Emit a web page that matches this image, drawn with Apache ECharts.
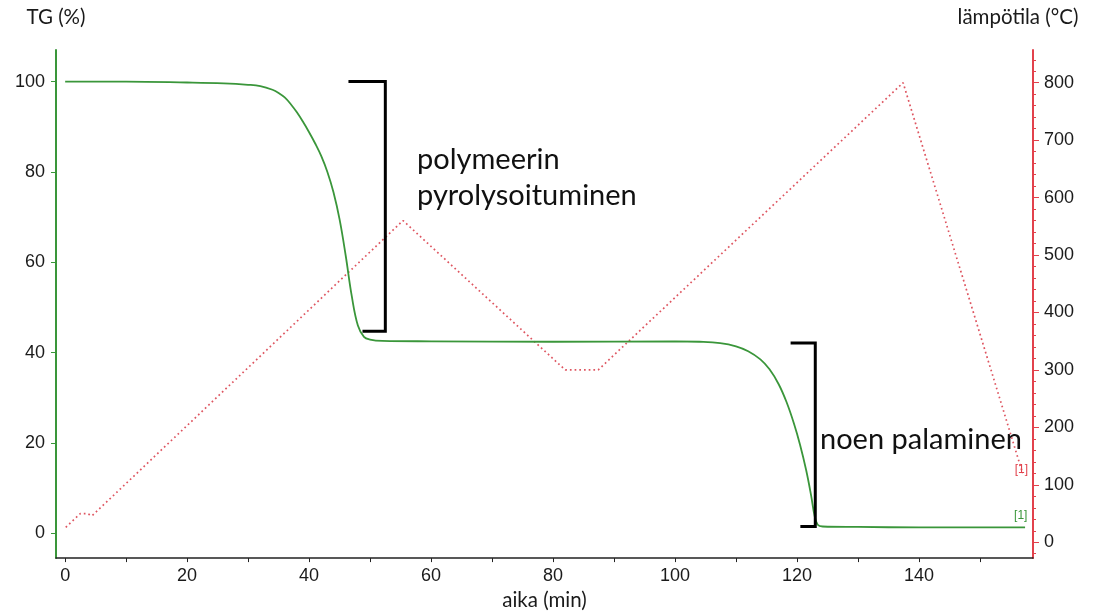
<!DOCTYPE html>
<html>
<head>
<meta charset="utf-8">
<script src="https://cdn.jsdelivr.net/npm/echarts@6/dist/echarts.min.js"></script>
<style>
  html, body { margin: 0; padding: 0; background: #fff; }
  #chart { width: 1093px; height: 616px; }
</style>
</head>
<body>
<div id="chart"></div>
<script>
// Mass loss (TG, %) against time (min)
const tgTime = [0, 10, 20, 26, 30, 32, 34, 35, 36, 37, 38, 39, 40, 41, 42, 43, 44, 45, 46, 47, 48, 49, 50, 52, 60, 80, 100, 104, 107.4, 110, 112, 114, 115.5, 117, 118.3, 119.5, 120.5, 121.5, 122.3, 122.9, 123.4, 124.2, 130, 140, 157.4];
const tgMass = [100, 100, 99.8, 99.6, 99.3, 99.0, 98.2, 97.5, 96.5, 95.0, 93.2, 91.1, 88.8, 86.3, 83.5, 80.0, 75.5, 69.5, 61.5, 52.5, 46.0, 43.5, 42.9, 42.6, 42.5, 42.4, 42.5, 42.4, 42.1, 41.4, 40.3, 38.5, 36.3, 33.0, 29.0, 24.3, 19.6, 14.0, 8.5, 3.8, 1.9, 1.5, 1.4, 1.3, 1.3];

// Furnace temperature programme (°C) against time (min)
const tempTime = [0.1, 2.5, 3.6, 4.4, 55.4, 82, 87.4, 137.4, 157];
const tempValue = [26, 50, 50, 46, 560, 300, 300, 800, 120];

// Brackets marking the two mass-loss steps
const bracket1Time = [46.7, 52.5, 52.5, 49.0];
const bracket1Mass = [100, 100, 44.7, 44.7];
const bracket2Time = [119.2, 123.0, 123.0, 120.8];
const bracket2Mass = [42.1, 42.1, 1.5, 1.5];

// Tick positions and labels
const timeLabels = [0, 20, 40, 60, 80, 100, 120, 140];
const timeTicks = [0, 10, 20, 30, 40, 50, 60, 70, 80, 90, 100, 110, 120, 130, 140, 150];
const tgLabels = [0, 20, 40, 60, 80, 100];
const tempLabels = [0, 100, 200, 300, 400, 500, 600, 700, 800];
const tempMinorTicks = [-20, 0, 20, 40, 60, 80, 100, 120, 140, 160, 180, 200, 220, 240, 260, 280, 300, 320, 340, 360, 380, 400, 420, 440, 460, 480, 500, 520, 540, 560, 580, 600, 620, 640, 660, 680, 700, 720, 740, 760, 780, 800, 820, 840];

const annotations = ['polymeerin', 'pyrolysoituminen', 'noen palaminen'];

const GREEN = '#3a963a';
const RED = '#e2424c';
const tickFont = { fontFamily: 'Liberation Sans', fontSize: 18, color: '#1a1a1a' };
const titleFont = { fontFamily: 'Lato', fontSize: 20.5, color: '#1a1a1a' };
const noteFont = '29px Lato';

const zip = (xs, ys) => xs.map((x, i) => [x, ys[i]]);

const chart = echarts.init(document.getElementById('chart'));
chart.setOption({
  animation: false,
  backgroundColor: '#fff',
  grid: { left: 56, right: 60, top: 50, bottom: 53 },
  xAxis: {
    type: 'value',
    min: -1.5,
    max: 158.7,
    name: 'aika (min)',
    nameLocation: 'middle',
    nameGap: 29,
    nameTextStyle: titleFont,
    splitLine: { show: false },
    axisLine: { show: true, onZero: false, lineStyle: { color: '#222', width: 1.5 } },
    axisTick: { show: true, length: 4, customValues: timeTicks, lineStyle: { color: '#222' } },
    axisLabel: Object.assign({ customValues: timeLabels, margin: 9 }, tickFont)
  },
  yAxis: [
    {
      type: 'value',
      position: 'left',
      min: -5.5,
      max: 107,
      name: 'TG (%)',
      nameLocation: 'end',
      nameGap: 22,
      nameTextStyle: Object.assign({ align: 'center' }, titleFont),
      splitLine: { show: false },
      axisLine: { show: true, onZero: false, lineStyle: { color: GREEN, width: 2 } },
      axisTick: { show: true, length: 5, customValues: tgLabels, lineStyle: { color: GREEN } },
      axisLabel: Object.assign({ customValues: tgLabels, margin: 11 }, tickFont)
    },
    {
      type: 'value',
      position: 'right',
      min: -27.6,
      max: 857,
      name: 'lämpötila (°C)',
      nameLocation: 'end',
      nameGap: 22,
      nameTextStyle: Object.assign({ align: 'center', padding: [0, 30, 0, 0] }, titleFont),
      splitLine: { show: false },
      axisLine: { show: true, onZero: false, lineStyle: { color: RED, width: 2 } },
      axisTick: { show: true, length: 6, customValues: tempLabels, lineStyle: { color: RED } },
      axisLabel: Object.assign({ customValues: tempLabels, margin: 11 }, tickFont)
    },
    {
      type: 'value',
      position: 'right',
      min: -27.6,
      max: 857,
      splitLine: { show: false },
      axisLine: { show: false, onZero: false },
      axisTick: { show: true, length: 3, customValues: tempMinorTicks, lineStyle: { color: RED } },
      axisLabel: { show: false }
    }
  ],
  series: [
    {
      name: 'TG',
      type: 'line',
      xAxisIndex: 0,
      yAxisIndex: 0,
      data: zip(tgTime, tgMass),
      showSymbol: false,
      smooth: 0.4,
      lineStyle: { color: GREEN, width: 1.8 },
      itemStyle: { color: GREEN },
      endLabel: {
        show: true,
        formatter: '[1]',
        offset: [-19, -12],
        fontFamily: 'Liberation Sans',
        fontSize: 12,
        color: GREEN
      },
      z: 3
    },
    {
      name: 'lämpötila',
      type: 'line',
      xAxisIndex: 0,
      yAxisIndex: 1,
      data: zip(tempTime, tempValue),
      showSymbol: false,
      lineStyle: { color: '#de5560', width: 1.7, type: [1.7, 3], cap: 'butt' },
      itemStyle: { color: RED },
      endLabel: {
        show: true,
        formatter: '[1]',
        offset: [-16, -4],
        fontFamily: 'Liberation Sans',
        fontSize: 12,
        color: RED
      },
      z: 2
    },
    {
      type: 'line',
      xAxisIndex: 0,
      yAxisIndex: 0,
      data: zip(bracket1Time, bracket1Mass),
      showSymbol: false,
      silent: true,
      lineStyle: { color: '#000', width: 3, cap: 'square', join: 'miter' },
      z: 4
    },
    {
      type: 'line',
      xAxisIndex: 0,
      yAxisIndex: 0,
      data: zip(bracket2Time, bracket2Mass),
      showSymbol: false,
      silent: true,
      lineStyle: { color: '#000', width: 3, cap: 'square', join: 'miter' },
      z: 4
    }
  ],
  graphic: [
    { type: 'text', x: 417, y: 160, style: { text: annotations[0], font: noteFont, fill: '#111', verticalAlign: 'middle' } },
    { type: 'text', x: 417, y: 196, style: { text: annotations[1], font: noteFont, fill: '#111', verticalAlign: 'middle' } },
    { type: 'text', x: 820, y: 440, style: { text: annotations[2], font: noteFont, fill: '#111', verticalAlign: 'middle' } }
  ]
});
</script>
</body>
</html>
